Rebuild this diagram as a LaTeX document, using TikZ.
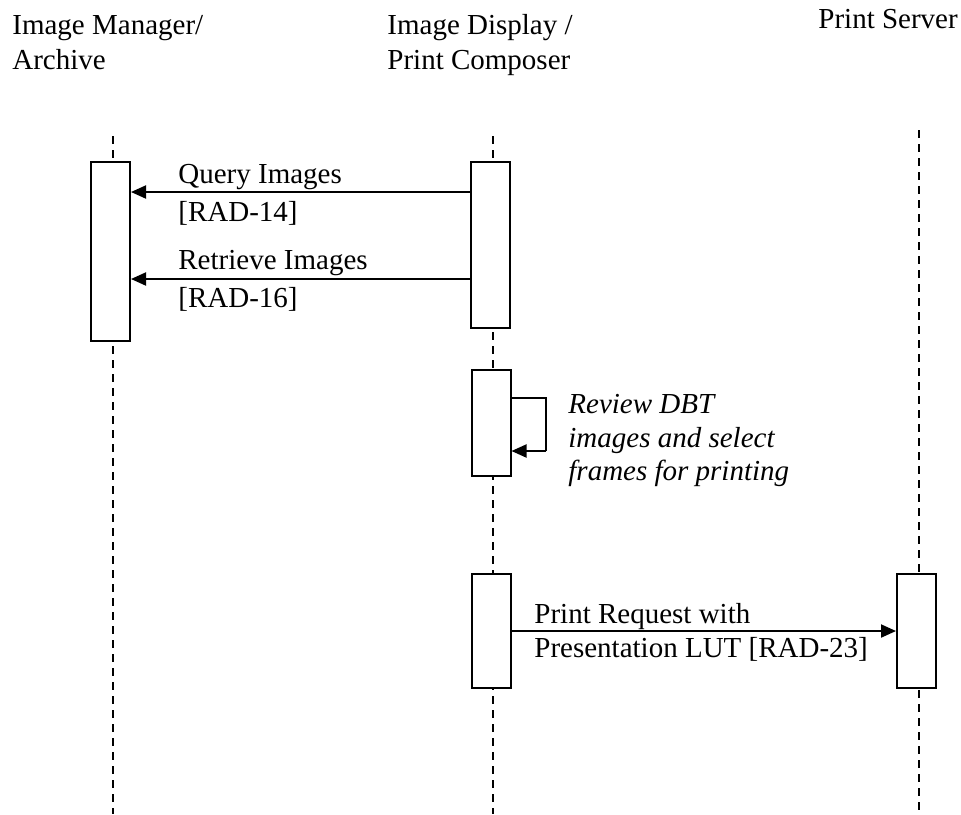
\documentclass[tikz,border=0pt]{standalone}
\usepackage{fontspec}
\setmainfont{Liberation Serif}
\usetikzlibrary{arrows.meta}
\begin{document}
\begin{tikzpicture}[x=0.5pt,y=-0.5pt,
  lbl/.style={anchor=base west,inner sep=0pt,font=\fontsize{14.5}{17}\selectfont},
  ilbl/.style={lbl,font=\fontsize{14.5}{17}\selectfont\itshape},
  lifeline/.style={line width=1pt,dash pattern=on 4pt off 3pt},
  actbox/.style={draw,line width=1pt,fill=white,inner sep=0pt,minimum width=19.5pt},
  msg/.style={line width=1pt,-{Triangle[length=7.5pt,width=6.5pt]}},
  selfline/.style={line width=1pt}]
\useasboundingbox (0,0) rectangle (961,814);
% headers
\node[lbl] (h1a) at (12,34) {Image Manager/};
\node[lbl] (h1b) at (12,69) {Archive};
\node[lbl] (h2a) at (387,34) {Image Display /};
\node[lbl] (h2b) at (387,69) {Print Composer};
\node[lbl] (h3) at (818,28) {Print Server};
% lifelines
\coordinate (l1t) at (113,136); \coordinate (l1b) at (113,814);
\coordinate (l2t) at (493,136); \coordinate (l2b) at (493,814);
\coordinate (l3t) at (919,130); \coordinate (l3b) at (919,814);
\draw[lifeline] (l1t) -- (l1b);
\draw[lifeline] (l2t) -- (l2b);
\draw[lifeline] (l3t) -- (l3b);
% activation boxes
\node[actbox,minimum height=89.5pt] (a1) at (110.5,251.5) {};
\node[actbox,minimum height=83pt] (m1) at (490.5,245) {};
\node[actbox,minimum height=53pt] (m2) at (491,423) {};
\node[actbox,minimum height=57pt] (m3) at (491.5,631) {};
\node[actbox,minimum height=57pt] (p1) at (916.5,631) {};
% messages
\coordinate (q1) at (0,192);
\coordinate (q2) at (0,279);
\coordinate (q3) at (0,631);
\draw[msg] (m1.west |- q1) -- (a1.east |- q1);
\draw[msg] (m1.west |- q2) -- (a1.east |- q2);
\draw[msg] (m3.east |- q3) -- (p1.west |- q3);
\node[lbl] (t1a) at (178,183) {Query Images};
\node[lbl] (t1b) at (178,221) {[RAD-14]};
\node[lbl] (t2a) at (178,269) {Retrieve Images};
\node[lbl] (t2b) at (178,307) {[RAD-16]};
\node[lbl] (t3a) at (534,623) {Print Request with};
\node[lbl] (t3b) at (534,657) {Presentation LUT [RAD-23]};
% self message
\coordinate (s1) at (0,398);
\coordinate (s2) at (546,451);
\draw[selfline] (m2.east |- s1) -- (s2 |- s1) -- (s2);
\draw[msg] (s2) -- (m2.east |- s2);
\node[ilbl] (r1) at (568,413) {Review DBT};
\node[ilbl] (r2) at (568,447) {images and select};
\node[ilbl] (r3) at (568,480) {frames for printing};
\end{tikzpicture}
\end{document}
